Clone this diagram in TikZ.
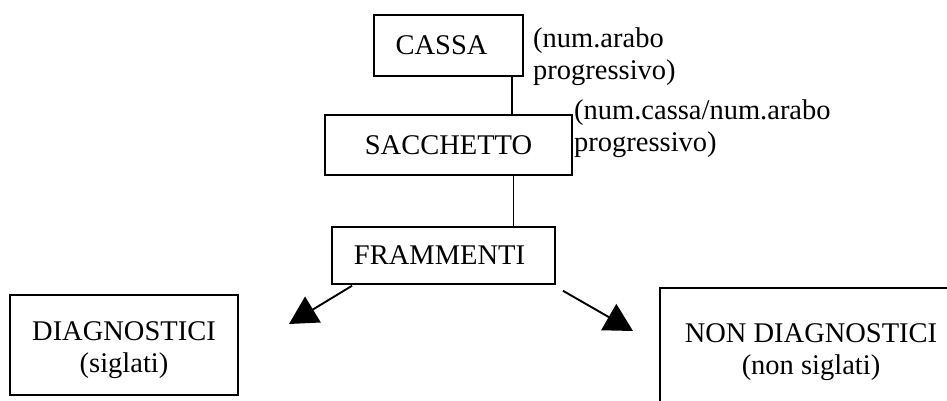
\documentclass[tikz,border=0pt]{standalone}
\usepackage{fontspec}
\setmainfont{Liberation Serif}
\usetikzlibrary{arrows.meta,positioning,calc}

\begin{document}
\begin{tikzpicture}[x=1pt,y=-1pt,node distance=37pt,every node/.style={font=\fontsize{28.5}{32}\selectfont,align=center,inner sep=0pt},
    box/.style={draw,line width=1.9pt},
    link/.style={line width=1.9pt},
    tipline/.style={line width=1.9pt,-{Triangle[length=28pt,width=30pt]}}]
    \clip (0,0) rectangle (947,401);
    \node[box,minimum width=149pt,minimum height=61pt] (cassa) at (448.5,45.5) {CASSA\hspace*{14pt}};
    \node[box,below=37pt of cassa,minimum width=247pt,minimum height=60pt] (sacchetto) {SACCHETTO};
    \node[box,below=50pt of sacchetto,xshift=-5pt,minimum width=223pt,minimum height=57pt] (frammenti) {FRAMMENTI\hspace*{8pt}};
    \node[box,minimum width=228pt,minimum height=100pt] (diag) at (124,345) {\rule{0pt}{29pt}DIAGNOSTICI\\(siglati)};
    \node[box,minimum width=302pt,minimum height=118pt] (nondiag) at (811,347) {\rule{0pt}{29pt}NON DIAGNOSTICI\\(non siglati)};
    \node[anchor=base west,align=left] (cassanum) at (533,80) {(num.arabo\\progressivo)};
    \node[anchor=base west,align=left] (sacchettonum) at (574,151) {(num.cassa/num.arabo\\progressivo)};
    % links down the chain
    \coordinate (c1) at ($(cassa.south west)!0.919!(cassa.south east)$);
    \coordinate (c2) at ($(sacchetto.south west)!0.761!(sacchetto.south east)$);
    \draw[link] (c1) -- (c1 |- sacchetto.north);
    \draw[link] (c2) -- (c2 |- frammenti.north);
    % arrows to the two groups
    \coordinate (diagfrom) at ($(frammenti.south west)+(21,1)$);
    \coordinate (nondiagfrom) at ($(frammenti.south east)+(7,6)$);
    \coordinate (diagtip) at (289,324);
    \coordinate (nondiagtip) at (633,331);
    \foreach \x/\y in {diagfrom/diagtip,nondiagfrom/nondiagtip}{\draw[tipline] (\x)--(\y);}
\end{tikzpicture}
\end{document}
